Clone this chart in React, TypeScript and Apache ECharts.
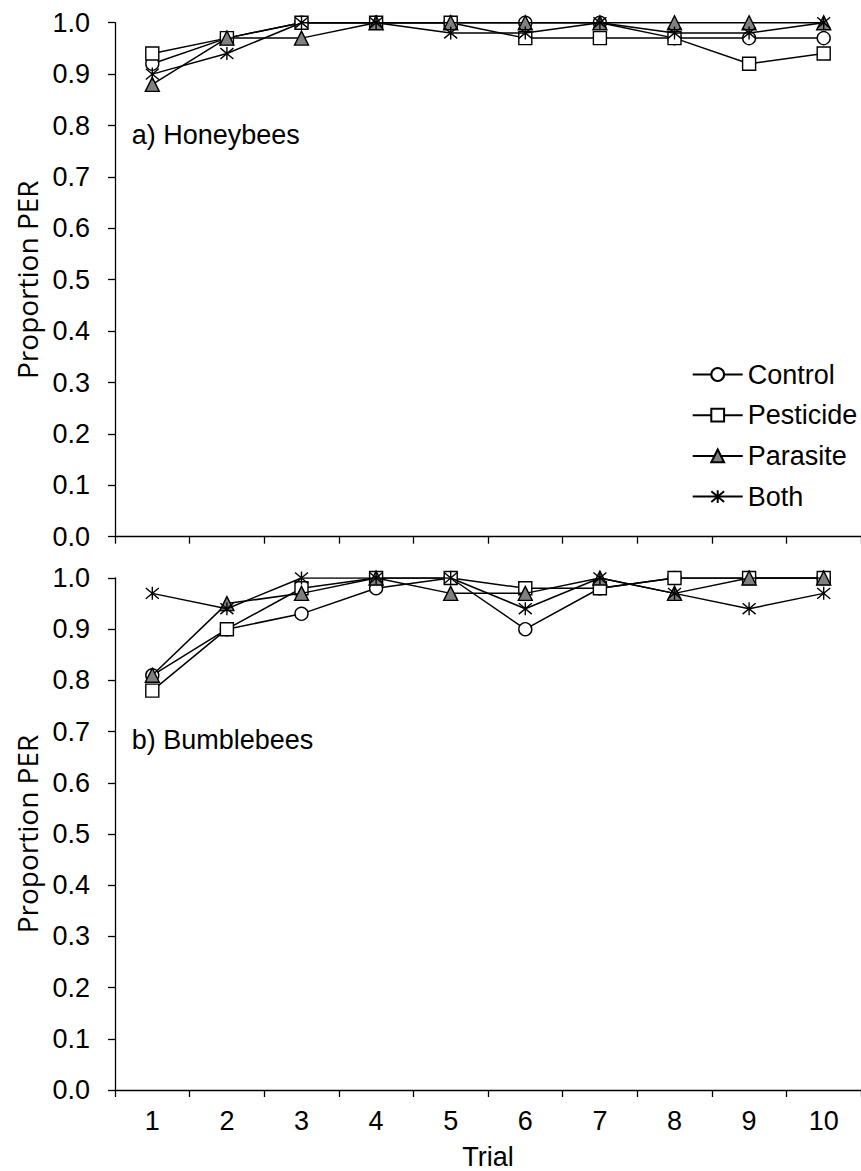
import React, { useEffect, useRef } from "react";
import * as echarts from "echarts";

const trials = ["1", "2", "3", "4", "5", "6", "7", "8", "9", "10"];
const seriesNames = ["Control", "Pesticide", "Parasite", "Both"];

// a) Honeybees
const honeyControl = [0.92, 0.97, 1.0, 1.0, 1.0, 1.0, 1.0, 0.97, 0.97, 0.97];
const honeyPesticide = [0.94, 0.97, 1.0, 1.0, 1.0, 0.97, 0.97, 0.97, 0.92, 0.94];
const honeyParasite = [0.88, 0.97, 0.97, 1.0, 1.0, 1.0, 1.0, 1.0, 1.0, 1.0];
const honeyBoth = [0.9, 0.94, 1.0, 1.0, 0.98, 0.98, 1.0, 0.98, 0.98, 1.0];

// b) Bumblebees
const bumbleControl = [0.81, 0.9, 0.93, 0.98, 1.0, 0.9, 0.98, 1.0, 1.0, 1.0];
const bumblePesticide = [0.78, 0.9, 0.98, 1.0, 1.0, 0.98, 0.98, 1.0, 1.0, 1.0];
const bumbleParasite = [0.81, 0.95, 0.97, 1.0, 0.97, 0.97, 1.0, 0.97, 1.0, 1.0];
const bumbleBoth = [0.97, 0.94, 1.0, 1.0, 1.0, 0.94, 1.0, 0.97, 0.94, 0.97];

const panelLabels = ["a) Honeybees", "b) Bumblebees"];
const yAxisName = "Proportion PER";
const xAxisName = "Trial";

const ARIAL = "'Liberation Sans', Arial, sans-serif";
const STAR = "path://M0,0L10,10M10,0L0,10M5,-1L5,11";

const styles = [
  { symbol: "circle", size: 13, fill: "#ffffff" },
  { symbol: "rect", size: 13, fill: "#ffffff" },
  { symbol: "triangle", size: 14, fill: "#808080" },
  { symbol: STAR, size: 13, fill: "#000000" },
];

export default function App() {
  const ref = useRef<HTMLDivElement>(null);

  useEffect(() => {
    if (!ref.current) return;
    const chart = echarts.init(ref.current, undefined, { renderer: "svg" });

    const panels = [
      [honeyControl, honeyPesticide, honeyParasite, honeyBoth],
      [bumbleControl, bumblePesticide, bumbleParasite, bumbleBoth],
    ];

    const axisLine = { show: true, lineStyle: { color: "#000", width: 1.3 } };
    const axisTick = { show: true, length: 7, lineStyle: { color: "#000", width: 1.3 } };

    const grids = [
      { left: 115, width: 750, top: 22.7, height: 514 },
      { left: 115, width: 750, top: 578, height: 514 },
    ];

    const xAxes = [0, 1].map((i) => ({
      type: "category",
      gridIndex: i,
      data: trials,
      boundaryGap: true,
      axisLine,
      axisTick: { ...axisTick, interval: 0 },
      axisLabel: {
        show: i === 1,
        color: "#000",
        fontFamily: ARIAL,
        fontSize: 27,
        margin: 17,
        interval: 0,
      },
      splitLine: { show: false },
      name: i === 1 ? xAxisName : "",
      nameLocation: "middle",
      nameGap: 53,
      nameTextStyle: { color: "#000", fontFamily: ARIAL, fontSize: 27 },
    }));

    const yAxes = [0, 1].map((i) => ({
      type: "value",
      gridIndex: i,
      min: 0,
      max: 1,
      interval: 0.1,
      axisLine,
      axisTick,
      splitLine: { show: false },
      axisLabel: {
        color: "#000",
        fontFamily: ARIAL,
        fontSize: 27,
        margin: 25,
        formatter: (v: number) => v.toFixed(1),
      },
      name: yAxisName,
      nameLocation: "middle",
      nameGap: 74,
      nameTextStyle: { color: "#000", fontFamily: "'Open Sans', sans-serif", fontSize: 28 },
    }));

    const series: any[] = [];
    panels.forEach((p, pi) => {
      p.forEach((vals, si) => {
        const st = styles[si];
        series.push({
          name: seriesNames[si],
          type: "line",
          xAxisIndex: pi,
          yAxisIndex: pi,
          data: vals,
          symbol: st.symbol,
          symbolSize: st.size,
          showAllSymbol: true,
          lineStyle: { color: "#000", width: 1.5 },
          itemStyle: { color: st.fill, borderColor: "#000", borderWidth: 1.4 },
          emphasis: { disabled: true },
          z: 2 + si,
        });
      });
    });

    chart.setOption({
      animation: false,
      backgroundColor: "#ffffff",
      grid: grids,
      xAxis: xAxes,
      yAxis: yAxes,
      legend: {
        data: seriesNames,
        orient: "vertical",
        left: 686.7,
        top: 356,
        itemWidth: 50,
        itemHeight: 16,
        itemGap: 13.7,
        textStyle: { color: "#000", fontFamily: ARIAL, fontSize: 27, lineHeight: 27 },
        selectedMode: false,
      },
      graphic: [
        {
          type: "text",
          x: 131.7,
          y: 135,
          style: {
            text: panelLabels[0],
            fill: "#000",
            font: `27px ${ARIAL}`,
            verticalAlign: "middle",
            align: "left",
          },
        },
        {
          type: "text",
          x: 131.7,
          y: 740,
          style: {
            text: panelLabels[1],
            fill: "#000",
            font: `27px ${ARIAL}`,
            verticalAlign: "middle",
            align: "left",
          },
        },
      ],
      series,
    });

    return () => chart.dispose();
  }, []);

  return (
    <div
      ref={ref}
      style={{ position: "absolute", left: 0, top: 0, width: 861, height: 1171, background: "#fff" }}
    />
  );
}
